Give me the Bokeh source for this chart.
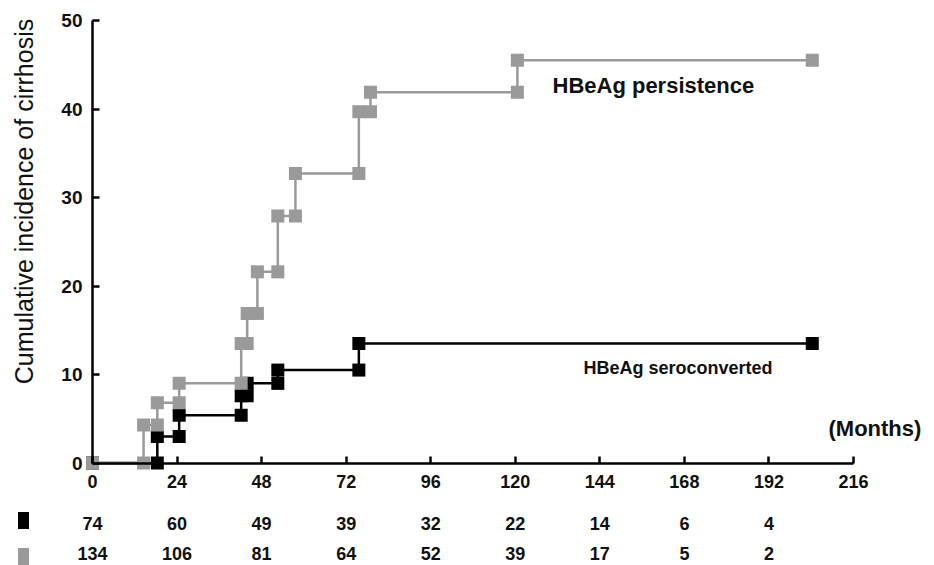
import numpy as np
from bokeh.plotting import figure
from bokeh.models import LinearAxis, FixedTicker, Range1d, Label
from bokeh.embed import file_html
from bokeh.resources import INLINE
from bokeh.core.properties import value

# ---------------- data ----------------
# HBeAg persistence: event months and cumulative incidence after each step
persist_times = [0, 14.5, 18.4, 24.6, 42.2, 43.9, 46.8, 52.6, 57.6, 75.6, 78.9, 120.6]
persist_vals = [0, 4.3, 6.8, 9.0, 13.5, 16.9, 21.6, 27.9, 32.7, 39.7, 41.9, 45.5]
persist_end = 204.3

# HBeAg seroconverted
sero_times = [0, 18.4, 24.6, 42.2, 43.9, 52.6, 75.6]
sero_vals = [0, 3.0, 5.4, 7.6, 9.0, 10.5, 13.5]
sero_end = 204.3

x_ticks = [0, 24, 48, 72, 96, 120, 144, 168, 192, 216]
y_ticks = [0, 10, 20, 30, 40, 50]
risk_months = [0, 24, 48, 72, 96, 120, 144, 168, 192]
risk_sero = [74, 60, 49, 39, 32, 22, 14, 6, 4]
risk_persist = [134, 106, 81, 64, 52, 39, 17, 5, 2]

GRAY = "#9a9a9a"
BLACK = "#000000"
TXT = "#111111"
FONT = "Liberation Sans"

# ---------------- layout (pixel anchors) ----------------
W, H = 934, 565
px0, px216 = 92.0, 853.0          # x pixel of month 0 and 216
py0, py50 = 462.5, 20.0            # y pixel of 0 and 50
kx = (px216 - px0) / 216.0
ky = (py0 - py50) / 50.0
x_start = -px0 / kx
x_end = x_start + W / kx
y_end = 50 + py50 / ky
y_start = -(H - py0) / ky

def xd(px):
    return (px - px0) / kx

def yd(py):
    return (py0 - py) / ky

p = figure(width=W, height=H, output_backend="svg", toolbar_location=None,
           x_range=Range1d(x_start, x_end), y_range=Range1d(y_start, y_end),
           x_axis_type=None, y_axis_type=None, min_border=0,
           outline_line_color=None, background_fill_color="white",
           border_fill_color="white")

# axes at data zero
yax = LinearAxis(fixed_location=0, bounds=(0, 50), ticker=FixedTicker(ticks=y_ticks))
yax.axis_line_width = 2.5
yax.major_tick_line_width = 2.5
yax.major_tick_in = 7
yax.major_tick_out = 0
yax.minor_tick_line_color = None
yax.major_label_text_font = FONT
yax.major_label_text_font_style = "bold"
yax.major_label_text_font_size = "19px"
yax.major_label_text_color = TXT
yax.major_label_standoff = 10
p.add_layout(yax, "left")

xax = LinearAxis(fixed_location=0, bounds=(0, 216), ticker=FixedTicker(ticks=x_ticks))
xax.axis_line_width = 2.5
xax.major_tick_line_width = 2.5
xax.major_tick_in = 7
xax.major_tick_out = 0
xax.minor_tick_line_color = None
xax.major_label_text_font = FONT
xax.major_label_text_font_style = "bold"
xax.major_label_text_font_size = "18px"
xax.major_label_text_color = TXT
xax.major_label_standoff = 12
p.add_layout(xax, "below")


def step_vertices(times, vals, end):
    xs = [times[0]]
    ys = [vals[0]]
    for i in range(1, len(times)):
        xs += [times[i], times[i]]
        ys += [vals[i - 1], vals[i]]
    xs.append(end)
    ys.append(vals[-1])
    return xs, ys

sx, sy = step_vertices(sero_times, sero_vals, sero_end)
gx, gy = step_vertices(persist_times, persist_vals, persist_end)

p.line(sx, sy, line_color=BLACK, line_width=2.5)
p.scatter(sx, sy, marker="square", size=13, fill_color=BLACK, line_color=None)
p.line(gx, gy, line_color=GRAY, line_width=2.5)
p.scatter(gx, gy, marker="square", size=13, fill_color=GRAY, line_color=None)

# curve labels
p.add_layout(Label(x=xd(552), y=yd(85), text="HBeAg persistence", text_font=FONT,
                   text_font_style="bold", text_font_size="22px", text_color=TXT,
                   text_baseline="middle", text_align="left"))
p.add_layout(Label(x=xd(583), y=yd(367), text="HBeAg seroconverted", text_font=FONT,
                   text_font_style="bold", text_font_size="18px", text_color=TXT,
                   text_baseline="middle", text_align="left"))
p.add_layout(Label(x=xd(828), y=yd(428), text="(Months)", text_font=FONT,
                   text_font_style="bold", text_font_size="22px", text_color=TXT,
                   text_baseline="middle", text_align="left"))
p.add_layout(Label(x=xd(23), y=yd(201), text="Cumulative incidence of cirrhosis",
                   text_font=FONT, text_font_size="25px", angle=np.pi / 2,
                   text_color=TXT, text_baseline="middle", text_align="center"))

# number at risk table
row1, row2 = yd(523), yd(553)
p.text(x=risk_months, y=[row1] * len(risk_months), text=[str(v) for v in risk_sero],
       text_font=value(FONT), text_font_style="bold", text_font_size="18px",
       text_align="center", text_baseline="middle", text_color=TXT)
p.text(x=risk_months, y=[row2] * len(risk_months), text=[str(v) for v in risk_persist],
       text_font=value(FONT), text_font_style="bold", text_font_size="18px",
       text_align="center", text_baseline="middle", text_color=TXT)
p.rect(x=[xd(23), xd(23)], y=[yd(520), yd(556)], width=11, height=17,
       width_units="screen", height_units="screen",
       fill_color=[BLACK, GRAY], line_color=None)

open("out.html", "w").write(file_html(p, INLINE))
